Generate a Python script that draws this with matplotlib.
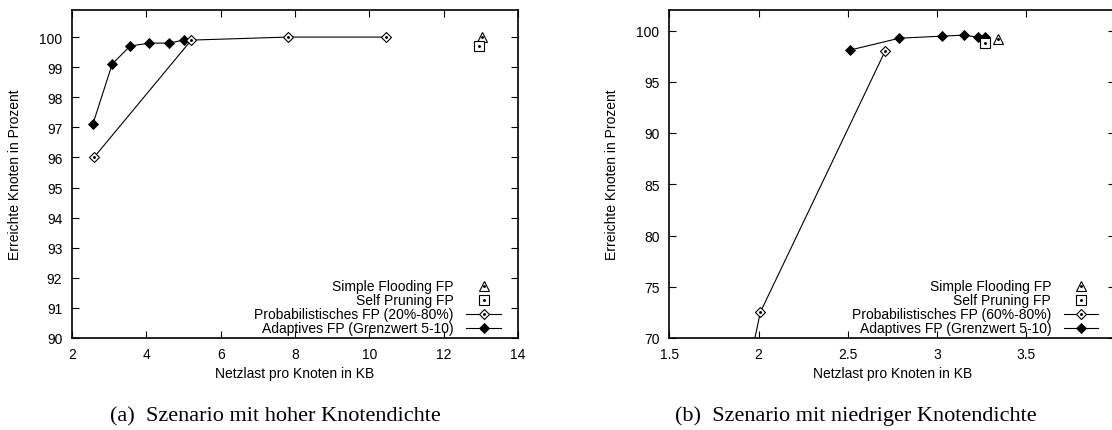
import matplotlib
matplotlib.use("Agg")
import matplotlib.pyplot as plt

# ---------------- data ----------------
# (a) high node density
a_adapt_x = [2.56, 3.08, 3.56, 4.08, 4.61, 5.00]
a_adapt_y = [97.1, 99.1, 99.7, 99.8, 99.8, 99.9]
a_prob_x = [2.59, 5.21, 7.80, 10.44]
a_prob_y = [96.0, 99.9, 100.0, 100.0]
a_flood_x = [13.03]
a_flood_y = [100.0]
a_prune_x = [12.96]
a_prune_y = [99.7]

# (b) low node density
b_adapt_x = [2.515, 2.79, 3.03, 3.15, 3.23, 3.27]
b_adapt_y = [98.1, 99.25, 99.45, 99.55, 99.35, 99.35]
b_prob_x = [1.86, 2.01, 2.71]
b_prob_y = [60.0, 72.5, 98.0]
b_flood_x = [3.34]
b_flood_y = [99.2]
b_prune_x = [3.27]
b_prune_y = [98.8]

a_xticks = [2, 4, 6, 8, 10, 12, 14]
a_yticks = [90, 91, 92, 93, 94, 95, 96, 97, 98, 99, 100]
b_xticks = [1.5, 2, 2.5, 3, 3.5, 4]
b_xticklabels = ["1.5", "2", "2.5", "3", "3.5", "4"]
b_yticks = [70, 75, 80, 85, 90, 95, 100]

lab_flood = "Simple Flooding FP"
lab_prune = "Self Pruning FP"
a_lab_prob = "Probabilistisches FP (20%-80%)"
b_lab_prob = "Probabilistisches FP (60%-80%)"
lab_adapt = "Adaptives FP (Grenzwert 5-10)"
xlabel = "Netzlast pro Knoten in KB"
ylabel = "Erreichte Knoten in Prozent"
cap_a = "(a)  Szenario mit hoher Knotendichte"
cap_b = "(b)  Szenario mit niedriger Knotendichte"

# ---------------- style ----------------
plt.rcParams['font.family'] = ['Liberation Sans', 'DejaVu Sans']
FS = 10
W, H = 1112, 431
fig = plt.figure(figsize=(W / 100, H / 100), dpi=100)
fig.patch.set_facecolor("white")

LW = 0.8
MS_D = 5.6
dot_kw = dict(linestyle="none", marker="o", markersize=1.1, color="black")


def panel(ax, ax_x, ax_y, px, py, fx, fy, sx, sy, lab_prob,
          xlim, ylim, xt, xtl, yt):
    l_ad, = ax.plot(ax_x, ax_y, color="black", lw=LW, marker="D",
                    markersize=MS_D, markerfacecolor="black",
                    markeredgecolor="black", markeredgewidth=0.6)
    l_pr, = ax.plot(px, py, color="black", lw=LW, marker="D",
                    markersize=MS_D, markerfacecolor="white",
                    markeredgecolor="black", markeredgewidth=0.8)
    d_pr, = ax.plot(px, py, **dot_kw)
    l_fl, = ax.plot(fx, fy, linestyle="none", marker="^", markersize=6.5,
                    markerfacecolor="white", markeredgecolor="black",
                    markeredgewidth=0.8)
    d_fl, = ax.plot(fx, fy, **dot_kw)
    l_sp, = ax.plot(sx, sy, linestyle="none", marker="s", markersize=7,
                    markerfacecolor="white", markeredgecolor="black",
                    markeredgewidth=0.8)
    d_sp, = ax.plot(sx, sy, **dot_kw)

    ax.set_xlim(*xlim)
    ax.set_ylim(*ylim)
    ax.set_xticks(xt)
    if xtl is not None:
        ax.set_xticklabels(xtl)
    ax.set_yticks(yt)
    ax.tick_params(direction="in", length=5, width=0.8, top=True,
                   right=True, labelsize=FS, pad=7)
    ax.tick_params(axis="x", pad=6.5)
    for s in ax.spines.values():
        s.set_linewidth(1.2)
    ax.set_xlabel(xlabel, fontsize=FS)
    ax.set_ylabel(ylabel, fontsize=FS)
    ax.xaxis.set_label_coords(0.5, -0.085)
    ax.yaxis.set_label_coords(-0.113, 0.5)

    leg = ax.legend([(l_fl, d_fl), (l_sp, d_sp), (l_pr, d_pr), l_ad],
                    [lab_flood, lab_prune, lab_prob, lab_adapt],
                    loc="lower right", bbox_to_anchor=(0.962, 0.008),
                    markerfirst=False, frameon=False, fontsize=FS,
                    handlelength=2.5, handletextpad=0.9, labelspacing=0.0,
                    borderaxespad=0, borderpad=0, numpoints=1)
    return leg


ax1 = fig.add_axes([72 / W, (H - 339) / H, 446 / W, 328 / H])
panel(ax1, a_adapt_x, a_adapt_y, a_prob_x, a_prob_y, a_flood_x, a_flood_y,
      a_prune_x, a_prune_y, a_lab_prob, (2, 14), (90, 100.9),
      a_xticks, None, a_yticks)

ax2 = fig.add_axes([669.3 / W, (H - 339) / H, 446 / W, 328 / H])
panel(ax2, b_adapt_x, b_adapt_y, b_prob_x, b_prob_y, b_flood_x, b_flood_y,
      b_prune_x, b_prune_y, b_lab_prob, (1.5, 4), (70, 102),
      b_xticks, b_xticklabels, b_yticks)

cap_font = ['Liberation Serif', 'DejaVu Serif']
fig.text(275 / W, 1 - 416.5 / H, cap_a, ha="center", va="center",
         fontsize=16, family=cap_font)
fig.text(856 / W, 1 - 416.5 / H, cap_b, ha="center", va="center",
         fontsize=16, family=cap_font)

fig.savefig("out.png", dpi=100, facecolor="white")
